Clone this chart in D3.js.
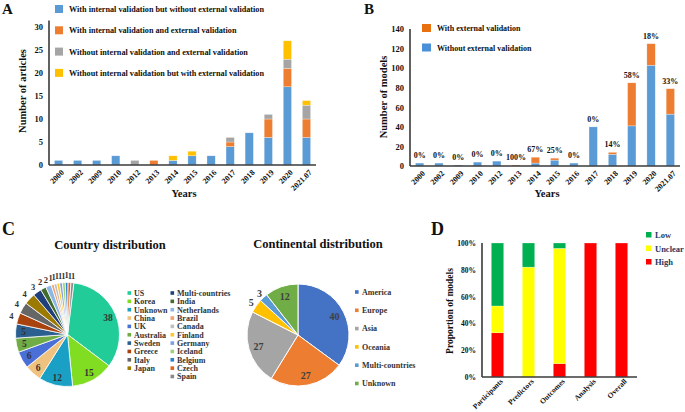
<!DOCTYPE html>
<html><head><meta charset="utf-8">
<script src="https://cdn.jsdelivr.net/npm/d3@7"></script>
<style>
body{margin:0;background:#fff;}
svg text{font-family:"Liberation Serif","Times New Roman",serif;font-weight:bold;fill:#111;}
</style></head><body>
<svg id="chart" width="685" height="412"></svg>
<script>
// ---------- DATA ----------
const yearsA = ["2000","2002","2009","2010","2012","2013","2014","2015","2016","2017","2018","2019","2020","2021.07"];
const internalOnly     = [1,1,1,2,0,0,1,2,2,4,7,6,17,6];
const internalExternal = [0,0,0,0,0,1,0,0,0,1,0,4,4,4];
const neitherValidation= [0,0,0,0,1,0,0,0,0,1,0,1,2,3];
const externalOnly     = [0,0,0,0,0,0,1,1,0,0,0,0,4,1];
const legendA = ["With internal validation but without external validation",
  "With internal validation and external validation",
  "Without internal validation and external validation",
  "Without internal validation but with external validation"];
const ticksA = [0,5,10,15,20,25,30];

const yearsB = yearsA;
const withoutExternal = [3,3,1,4,5,0,3,6,3,40,12,41,103,53];
const withExternal    = [0,0,0,0,0,1,6,2,0,0,2,44,22,26];
const externalPct = ["0%","0%","0%","0%","0%","100%","67%","25%","0%","0%","14%","58%","18%","33%"];
const legendB = ["With external validation","Without external validation"];
const ticksB = [0,20,40,60,80,100,120,140];

const countries = ["US","Korea","Unknown","China","UK","Australia","Sweden","Greece","Italy","Japan",
  "Multi-countries","India","Netherlands","Brazil","Canada","Finland","Germany","Iceland","Belgium","Czech","Spain"];
const countryCounts = [38,15,12,6,6,5,5,4,4,4,3,2,2,1,1,1,1,1,1,1,1];
const countryColors = ["#22cc99","#80dd22","#1aa0c4","#efc27f","#4a6fd6","#70ad47","#2a5f8f","#a8430f","#666666","#9c7a00",
  "#213f7a","#426b2c","#8cb8e8","#f4a070","#bfbfbf","#ffc830","#7e9fe0","#9dd17a","#2f7fd0","#e3621a","#8a8a8a"];

const continents = ["America","Europe","Asia","Oceania","Multi-countries","Unknown"];
const continentCounts = [40,27,27,5,3,12];
const continentColors = ["#4472c4","#ed7d31","#a5a5a5","#ffc000","#5b9bd5","#70ad47"];

const domainsD = ["Participants","Predictors","Outcomes","Analysis","Overall"];
const highRisk    = [33,0,10,100,100];
const unclearRisk = [20,82,86,0,0];
const lowRisk     = [47,18,4,0,0];
const legendD = ["Low","Unclear","High"];
const ticksD = [0,20,40,60,80,100];

// ---------- SETUP ----------
const svg = d3.select("#chart");
svg.append("rect").attr("width",685).attr("height",412).attr("fill","#fff");
const axisColor = "#3a3a3a";

function rotLabels(g, scale, y, labels, fs){
  g.selectAll(null).data(labels).join("text")
    .attr("transform", d => `translate(${scale(d)+scale.bandwidth()/2+4},${y}) rotate(-45)`)
    .attr("text-anchor","end").attr("dy","0.35em")
    .style("font-size", fs+"px").text(d=>d);
}
function yAxis(g, scale, x, ticks, fmt, fs, topVal){
  const ax = g.append("g").attr("transform",`translate(${x},0)`)
    .call(d3.axisLeft(scale).tickValues(ticks).tickSize(0).tickPadding(6).tickFormat(fmt));
  ax.select(".domain").remove();
  ax.selectAll("text").style("font-size",fs+"px").attr("font-family",null);
  g.append("line").attr("x1",x).attr("x2",x).attr("y1",scale.range()[0]).attr("y2",scale(topVal))
    .attr("stroke",axisColor).attr("stroke-width",1.6);
}

// ---------- PANEL A ----------
const gA = svg.append("g");
const xA = d3.scaleBand().domain(yearsA).range([49,316]).paddingInner(0.565).paddingOuter(0.2825);
const yA = d3.scaleLinear().domain([0,30]).range([165,27]);
const keysA = ["a","b","c","d"];
const colorsA = ["#5b9bd5","#ed7d31","#a5a5a5","#ffc000"];
const rowsA = yearsA.map((y,i)=>({year:y,a:internalOnly[i],b:internalExternal[i],c:neitherValidation[i],d:externalOnly[i]}));
gA.selectAll("g.s").data(d3.stack().keys(keysA)(rowsA)).join("g").attr("fill",(d,i)=>colorsA[i])
  .selectAll("rect").data(d=>d.filter(s=>s[1]>s[0])).join("rect")
  .attr("x",d=>xA(d.data.year)).attr("width",xA.bandwidth())
  .attr("y",d=>yA(d[1])).attr("height",d=>yA(d[0])-yA(d[1]))
  .attr("stroke","#fff").attr("stroke-width",0.5).attr("stroke-opacity",0.6);
yAxis(gA, yA, 49, ticksA, d=>d, 8.5, 31.4);
gA.append("line").attr("x1",49).attr("x2",316).attr("y1",yA(0)).attr("y2",yA(0)).attr("stroke",axisColor).attr("stroke-width",1.6);
rotLabels(gA, xA, 171, yearsA, 8);
gA.append("text").attr("transform","translate(26,91) rotate(-90)").attr("text-anchor","middle").style("font-size","10.5px").text("Number of articles");
gA.append("text").attr("x",184).attr("y",197).attr("text-anchor","middle").style("font-size","10.5px").text("Years");
legendA.forEach((t,i)=>{
  gA.append("rect").attr("x",55).attr("y",5+i*21.3).attr("width",8).attr("height",8).attr("fill",colorsA[i]);
  gA.append("text").attr("x",69).attr("y",12+i*21.3).style("font-size","8.2px").text(t);
});
svg.append("text").attr("x",2).attr("y",14).style("font-size","15px").text("A");

// ---------- PANEL B ----------
const gB = svg.append("g");
const xB = d3.scaleBand().domain(yearsB).range([410,680]).paddingInner(0.565).paddingOuter(0.2825);
const yB = d3.scaleLinear().domain([0,140]).range([166,29]);
const colorsB = ["#5b9bd5","#ed7d31"];
const rowsB = yearsB.map((y,i)=>({year:y,a:withoutExternal[i],b:withExternal[i]}));
gB.selectAll("g.s").data(d3.stack().keys(["a","b"])(rowsB)).join("g").attr("fill",(d,i)=>colorsB[i])
  .selectAll("rect").data(d=>d.filter(s=>s[1]>s[0])).join("rect")
  .attr("x",d=>xB(d.data.year)).attr("width",xB.bandwidth())
  .attr("y",d=>yB(d[1])).attr("height",d=>yB(d[0])-yB(d[1]))
  .attr("stroke","#fff").attr("stroke-width",0.5).attr("stroke-opacity",0.6);
gB.selectAll("text.pct").data(yearsB).join("text").attr("class","pct")
  .attr("x",d=>xB(d)+xB.bandwidth()/2).attr("y",(d,i)=>yB(withoutExternal[i]+withExternal[i])-5)
  .attr("text-anchor","middle").style("font-size","8px").text((d,i)=>externalPct[i]);
yAxis(gB, yB, 410, ticksB, d=>d, 8.5, 140);
gB.append("line").attr("x1",410).attr("x2",680).attr("y1",yB(0)).attr("y2",yB(0)).attr("stroke",axisColor).attr("stroke-width",1.6);
rotLabels(gB, xB, 172, yearsB, 8);
gB.append("text").attr("transform","translate(387,97) rotate(-90)").attr("text-anchor","middle").style("font-size","10.5px").text("Number of models");
gB.append("text").attr("x",547).attr("y",197).attr("text-anchor","middle").style("font-size","10.5px").text("Years");
const legColB = ["#e8700f","#4a90d9"];
legendB.forEach((t,i)=>{
  gB.append("rect").attr("x",422).attr("y",24+i*19.5).attr("width",9).attr("height",8).attr("fill",legColB[i]);
  gB.append("text").attr("x",437).attr("y",31+i*19.5).style("font-size","8px").text(t);
});
svg.append("text").attr("x",364).attr("y",14).style("font-size","15px").text("B");

// ---------- PANEL C ----------
svg.append("text").attr("x",2).attr("y",235).style("font-size","18px").text("C");
const gC = svg.append("g");
gC.append("text").attr("x",110).attr("y",249).attr("text-anchor","middle").style("font-size","12.5px").text("Country distribution");
const rC = 52, cxC = 67.5, cyC = 334.5;
const start = 7*Math.PI/180;
const pieC = d3.pie().sort(null).startAngle(start).endAngle(start+2*Math.PI)(countryCounts);
const arcC = d3.arc().innerRadius(0).outerRadius(rC);
const pc = gC.append("g").attr("transform",`translate(${cxC},${cyC})`);
pc.selectAll("path").data(pieC).join("path").attr("d",arcC).attr("fill",(d,i)=>countryColors[i])
  .attr("stroke","#fff").attr("stroke-width",0.8);
pc.selectAll("text").data(pieC).join("text")
  .attr("transform",d=>{const a=(d.startAngle+d.endAngle)/2; const r=d.value>=5?44:59; return `translate(${r*Math.sin(a)},${-r*Math.cos(a)})`;})
  .attr("text-anchor","middle").attr("dy","0.35em").style("font-size",d=>d.value>=5?"9.5px":"8.5px")
  .style("fill","#333").text(d=>d.value);
countries.forEach((c,i)=>{
  const col = i<10?0:1, row = i<10?i:i-10;
  const sx = col===0?127.5:170.5, tx = col===0?134:177, cy = 293+row*8.35;
  gC.append("rect").attr("x",sx).attr("y",cy-1.8).attr("width",3.6).attr("height",3.6).attr("fill",countryColors[i]);
  gC.append("text").attr("x",tx).attr("y",cy).attr("dy","0.35em").style("font-size","8px").style("fill","#333").text(c);
});

// continental
const gC2 = svg.append("g");
gC2.append("text").attr("x",318).attr("y",248).attr("text-anchor","middle").style("font-size","12.5px").text("Continental  distribution");
const rK = 51, cxK = 298, cyK = 335;
const pieK = d3.pie().sort(null)(continentCounts);
const arcK = d3.arc().innerRadius(0).outerRadius(rK);
const pk = gC2.append("g").attr("transform",`translate(${cxK},${cyK})`);
pk.selectAll("path").data(pieK).join("path").attr("d",arcK).attr("fill",(d,i)=>continentColors[i])
  .attr("stroke","#fff").attr("stroke-width",1);
pk.selectAll("text").data(pieK).join("text")
  .attr("transform",d=>{const a=(d.startAngle+d.endAngle)/2; const r=d.value>=10?41:57; return `translate(${r*Math.sin(a)},${-r*Math.cos(a)})`;})
  .attr("text-anchor","middle").attr("dy","0.35em").style("font-size","10px").style("fill","#404040").text(d=>d.value);
continents.forEach((c,i)=>{
  const cy = 292+i*18.3;
  gC2.append("rect").attr("x",355).attr("y",cy-1.8).attr("width",3.6).attr("height",3.6).attr("fill",continentColors[i]);
  gC2.append("text").attr("x",362).attr("y",cy).attr("dy","0.35em").style("font-size","8px").style("fill","#333").text(c);
});

// ---------- PANEL D ----------
svg.append("text").attr("x",431).attr("y",235).style("font-size","18px").text("D");
const gD = svg.append("g");
const xD = d3.scaleBand().domain(domainsD).range([482,637]).paddingInner(0.6).paddingOuter(0.3);
const yD = d3.scaleLinear().domain([0,100]).range([377,243]);
const colorsD = {high:"#ff0000",unclear:"#ffff00",low:"#00b050"};
const rowsD = domainsD.map((d,i)=>({dom:d,high:highRisk[i],unclear:unclearRisk[i],low:lowRisk[i]}));
gD.selectAll("g.s").data(d3.stack().keys(["high","unclear","low"])(rowsD)).join("g").attr("fill",d=>colorsD[d.key])
  .selectAll("rect").data(d=>d.filter(s=>s[1]>s[0])).join("rect")
  .attr("x",d=>xD(d.data.dom)).attr("width",xD.bandwidth())
  .attr("y",d=>yD(d[1])).attr("height",d=>yD(d[0])-yD(d[1]))
  .attr("stroke","#fff").attr("stroke-width",0.5).attr("stroke-opacity",0.5);
yAxis(gD, yD, 482, ticksD, d=>d+"%", 7.5, 100);
gD.append("line").attr("x1",482).attr("x2",637).attr("y1",yD(0)).attr("y2",yD(0)).attr("stroke",axisColor).attr("stroke-width",1.6);
rotLabels(gD, xD, 380, domainsD, 7.5);
gD.append("text").attr("transform","translate(453,311) rotate(-90)").attr("text-anchor","middle").style("font-size","9.5px").text("Proportion of models");
legendD.forEach((t,i)=>{
  gD.append("rect").attr("x",646).attr("y",232+i*13.5).attr("width",5.5).attr("height",5.5).attr("fill",[colorsD.low,colorsD.unclear,colorsD.high][i]);
  gD.append("text").attr("x",655).attr("y",238+i*13.5).style("font-size","8.5px").style("fill","#1f3864").text(t);
});
</script></body></html>
